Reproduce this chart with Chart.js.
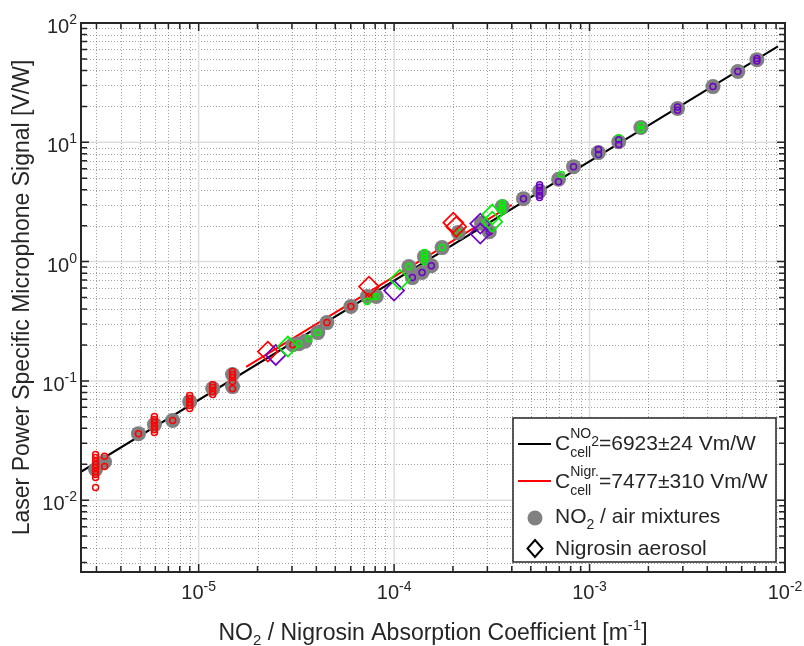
<!DOCTYPE html>
<html>
<head>
<meta charset="utf-8">
<script src="https://cdn.jsdelivr.net/npm/chart.js@4.4.0/dist/chart.umd.min.js"></script>
<style>
  html, body { margin: 0; padding: 0; background: #fff; }
  #chart { display: block; }
</style>
</head>
<body>
<canvas id="chart" width="804" height="646"></canvas>
<script>
// ---- axis ranges / tick labels ----
const xRange = [2.5e-6, 1e-2];
const yRange = [2.5e-3, 100];
const xTickExp = [-5, -4, -3, -2];
const yTickExp = [-2, -1, 0, 1, 2];

// ---- NO2 / air mixtures (grey mean points) ----
const grayX = [2.97e-6, 3.3e-6, 4.92e-6, 5.94e-6, 7.36e-6, 9.0e-6, 1.18e-5, 1.49e-5, 1.49e-5,
  3.03e-5, 3.26e-5, 3.5e-5, 4.07e-5, 4.53e-5, 6.01e-5, 7.3e-5, 8.1e-5, 1.19e-4, 1.24e-4,
  1.39e-4, 1.43e-4, 1.55e-4, 1.76e-4, 2.13e-4, 2.8e-4, 3.07e-4, 3.58e-4, 4.59e-4, 5.55e-4,
  6.94e-4, 8.28e-4, 1.11e-3, 1.41e-3, 1.83e-3, 2.82e-3, 4.28e-3, 5.74e-3, 7.18e-3];
const grayY = [0.0181, 0.021, 0.0361, 0.043, 0.0465, 0.067, 0.0862, 0.113, 0.0896,
  0.201, 0.205, 0.215, 0.254, 0.308, 0.42, 0.51, 0.51, 0.908, 0.734,
  0.809, 1.10, 0.925, 1.31, 1.75, 2.1, 1.78, 2.89, 3.37, 3.9,
  4.9, 6.25, 8.2, 10.1, 13.3, 19.2, 29.3, 39.2, 49.3];

// single measurements (small open circles)
const redX = [2.97e-6, 2.97e-6, 2.97e-6, 2.97e-6, 2.97e-6, 2.97e-6, 2.97e-6, 2.97e-6, 2.97e-6,
  3.3e-6, 3.3e-6, 4.92e-6, 5.94e-6, 5.94e-6, 5.94e-6, 5.94e-6, 5.94e-6, 5.94e-6, 7.36e-6,
  9.0e-6, 9.0e-6, 9.0e-6, 9.0e-6, 9.0e-6, 1.18e-5, 1.18e-5, 1.18e-5, 1.18e-5,
  1.49e-5, 1.49e-5, 1.49e-5, 1.49e-5, 1.49e-5, 3.03e-5, 4.53e-5, 6.01e-5, 7.44e-5];
const redY = [0.0241, 0.0228, 0.0211, 0.0199, 0.0188, 0.0174, 0.0164, 0.0155, 0.0128,
  0.0233, 0.0192, 0.0361, 0.0502, 0.0474, 0.0447, 0.0414, 0.039, 0.0369, 0.0465,
  0.0753, 0.0711, 0.0658, 0.0621, 0.0586, 0.093, 0.0879, 0.0813, 0.0768,
  0.12, 0.113, 0.107, 0.0986, 0.086, 0.201, 0.308, 0.42, 0.51];

const greenX = [3.26e-5, 3.67e-5, 4.07e-5, 7.27e-5, 7.8e-5, 8.1e-5, 1.19e-4,
  1.43e-4, 1.43e-4, 1.43e-4, 1.43e-4, 1.76e-4, 2.13e-4, 3.58e-4, 3.58e-4, 3.58e-4, 3.58e-4,
  7.18e-4, 1.11e-3, 1.41e-3, 1.83e-3, 1.83e-3];
const greenY = [0.205, 0.226, 0.254, 0.462, 0.51, 0.51, 0.908,
  1.19, 1.13, 1.06, 1.0, 1.31, 1.75, 3.1, 2.95, 2.8, 2.65,
  5.36, 7.9, 10.9, 12.8, 13.8];

const purpleX = [1.24e-4, 1.39e-4, 1.55e-4, 3.07e-4, 4.59e-4,
  5.55e-4, 5.55e-4, 5.55e-4, 5.55e-4, 5.55e-4, 6.94e-4, 8.28e-4, 1.11e-3, 1.11e-3,
  1.41e-3, 1.41e-3, 2.82e-3, 2.82e-3, 4.28e-3, 5.74e-3, 7.18e-3, 7.18e-3];
const purpleY = [0.734, 0.809, 0.925, 1.78, 3.37,
  4.4, 4.2, 3.9, 3.6, 3.44, 4.68, 6.25, 8.7, 7.9,
  10.5, 9.6, 19.8, 18.6, 29.3, 39.2, 50.5, 48.0];

// ---- Nigrosin aerosol (diamonds) ----
const redDiaX = [2.26e-5, 7.44e-5, 2.01e-4, 2.08e-4];
const redDiaY = [0.176, 0.617, 2.12, 1.96];
const greenDiaX = [2.86e-5, 1.07e-4, 3.18e-4, 3.18e-4];
const greenDiaY = [0.194, 0.706, 2.48, 2.16];
const purpleDiaX = [2.48e-5, 1.0e-4, 2.76e-4, 2.76e-4];
const purpleDiaY = [0.165, 0.571, 2.08, 1.72];

// ---- calibration fits (end points) ----
const fitNo2X = [2.5e-6, 9.2e-3];
const fitNo2Y = [0.0173, 63.7];
const fitNigrX = [1.75e-5, 4.0e-4];
const fitNigrY = [0.131, 2.99];

const RED = '#ff0000';
const GREEN = '#00f000';
const PURPLE = '#7000cc';
const GRAY = '#808080';
const INK = '#262626';
const FONT = '"Liberation Sans", Arial, Helvetica, sans-serif';

const zip = (xs, ys) => xs.map((v, i) => ({ x: v, y: ys[i] }));

function logTicks(min, max) {
    const out = [];
    for (let e = Math.floor(Math.log10(min)); e <= Math.ceil(Math.log10(max)); e++) {
        for (let k = 1; k <= 9; k++) {
            const v = k * Math.pow(10, e);
            if (v >= min * 0.999 && v <= max * 1.001) out.push({ v: v, major: k === 1 });
        }
    }
    return out;
}

// draws text runs [{t, s, dy}] from x (or centred / right aligned), returns end x
function drawRuns(ctx, x, y, runs, align) {
    let w = 0;
    runs.forEach(r => { ctx.font = r.s + 'px ' + FONT; r.w = ctx.measureText(r.t).width; w += r.w; });
    let cx = align === 'center' ? x - w / 2 : align === 'right' ? x - w : x;
    ctx.textAlign = 'left';
    ctx.textBaseline = 'alphabetic';
    runs.forEach(r => {
        ctx.font = r.s + 'px ' + FONT;
        ctx.fillText(r.t, cx, y + (r.dy || 0));
        cx += r.w;
    });
    return cx;
}

// C with a superscript and a "cell" subscript stacked, then the rest
function drawCoef(ctx, x, y, sup, supSub, rest) {
    ctx.textAlign = 'left';
    ctx.textBaseline = 'alphabetic';
    ctx.font = '21px ' + FONT;
    ctx.fillText('C', x, y);
    const sx = x + ctx.measureText('C').width;
    ctx.font = '14px ' + FONT;
    ctx.fillText(sup, sx, y - 12);
    let supEnd = sx + ctx.measureText(sup).width;
    if (supSub) {
        ctx.fillText(supSub, supEnd, y - 4);
        supEnd += ctx.measureText(supSub).width;
    }
    ctx.fillText('cell', sx, y + 7);
    const subEnd = sx + ctx.measureText('cell').width;
    ctx.font = '21px ' + FONT;
    ctx.fillText(rest, Math.max(supEnd, subEnd), y);
}

const matlabAxes = {
    id: 'matlabAxes',
    beforeDatasetsDraw(chart) {
        const { ctx, chartArea: a, scales: { x, y } } = chart;
        const xt = logTicks(xRange[0], xRange[1]);
        const yt = logTicks(yRange[0], yRange[1]);
        ctx.save();
        ctx.lineWidth = 1;
        // minor grid: dotted
        ctx.setLineDash([1, 2]);
        ctx.strokeStyle = 'rgba(38,38,38,0.42)';
        ctx.beginPath();
        xt.filter(t => !t.major).forEach(t => {
            const px = Math.round(x.getPixelForValue(t.v)) + 0.5;
            ctx.moveTo(px, a.top); ctx.lineTo(px, a.bottom);
        });
        yt.filter(t => !t.major).forEach(t => {
            const py = Math.round(y.getPixelForValue(t.v)) + 0.5;
            ctx.moveTo(a.left, py); ctx.lineTo(a.right, py);
        });
        ctx.stroke();
        // major grid: solid light
        ctx.setLineDash([]);
        ctx.strokeStyle = '#dddddd';
        ctx.lineWidth = 1.5;
        ctx.beginPath();
        xt.filter(t => t.major).forEach(t => {
            const px = x.getPixelForValue(t.v);
            ctx.moveTo(px, a.top); ctx.lineTo(px, a.bottom);
        });
        yt.filter(t => t.major).forEach(t => {
            const py = y.getPixelForValue(t.v);
            ctx.moveTo(a.left, py); ctx.lineTo(a.right, py);
        });
        ctx.stroke();
        ctx.restore();
    },
    afterDatasetsDraw(chart) {
        const { ctx, chartArea: a, scales: { x, y } } = chart;
        const xt = logTicks(xRange[0], xRange[1]);
        const yt = logTicks(yRange[0], yRange[1]);
        ctx.save();
        // inward ticks on all four sides
        ctx.strokeStyle = INK;
        ctx.lineWidth = 1.5;
        ctx.beginPath();
        xt.forEach(t => {
            const px = x.getPixelForValue(t.v);
            const len = t.major ? 8 : 6;
            ctx.moveTo(px, a.bottom); ctx.lineTo(px, a.bottom - len);
            ctx.moveTo(px, a.top); ctx.lineTo(px, a.top + len);
        });
        yt.forEach(t => {
            const py = y.getPixelForValue(t.v);
            const len = t.major ? 8 : 6;
            ctx.moveTo(a.left, py); ctx.lineTo(a.left + len, py);
            ctx.moveTo(a.right, py); ctx.lineTo(a.right - len, py);
        });
        ctx.stroke();
        // box
        ctx.lineWidth = 2;
        ctx.strokeRect(a.left, a.top, a.right - a.left, a.bottom - a.top);

        // tick labels
        ctx.fillStyle = INK;
        xTickExp.forEach(e => {
            const px = x.getPixelForValue(Math.pow(10, e));
            drawRuns(ctx, px, a.bottom + 27, [{ t: '10', s: 20 }, { t: String(e), s: 14, dy: -8 }], 'center');
        });
        yTickExp.forEach(e => {
            const py = y.getPixelForValue(Math.pow(10, e));
            drawRuns(ctx, a.left - 4, py + 10, [{ t: '10', s: 20 }, { t: String(e), s: 14, dy: -9 }], 'right');
        });

        // axis titles
        drawRuns(ctx, (a.left + a.right) / 2, 640, [
            { t: 'NO', s: 23 }, { t: '2', s: 15, dy: 5 },
            { t: ' / Nigrosin Absorption Coefficient [m', s: 23 },
            { t: '-1', s: 15, dy: -10 }, { t: ']', s: 23 }
        ], 'center');
        ctx.save();
        ctx.translate(29, (a.top + a.bottom) / 2);
        ctx.rotate(-Math.PI / 2);
        drawRuns(ctx, 0, 0, [{ t: 'Laser Power Specific Microphone Signal [V/W]', s: 23 }], 'center');
        ctx.restore();

        // legend
        const L = { x: 513, y: 418, w: 263, h: 144 };
        ctx.fillStyle = '#fff';
        ctx.fillRect(L.x, L.y, L.w, L.h);
        ctx.strokeStyle = INK;
        ctx.lineWidth = 1.5;
        ctx.strokeRect(L.x, L.y, L.w, L.h);

        ctx.lineWidth = 2;
        ctx.strokeStyle = '#000';
        ctx.beginPath(); ctx.moveTo(518, 444); ctx.lineTo(551, 444); ctx.stroke();
        ctx.strokeStyle = RED;
        ctx.beginPath(); ctx.moveTo(518, 481); ctx.lineTo(551, 481); ctx.stroke();

        ctx.fillStyle = GRAY;
        ctx.beginPath(); ctx.arc(535, 518, 7.5, 0, Math.PI * 2); ctx.fill();

        ctx.strokeStyle = '#000';
        ctx.lineWidth = 2;
        ctx.beginPath();
        ctx.moveTo(535, 540); ctx.lineTo(542.5, 548.5); ctx.lineTo(535, 557); ctx.lineTo(527.5, 548.5);
        ctx.closePath(); ctx.stroke();

        ctx.fillStyle = INK;
        drawCoef(ctx, 555, 450, 'NO', '2', '=6923\u00b124 Vm/W');
        drawCoef(ctx, 555, 488, 'Nigr.', '', '=7477\u00b1310 Vm/W');
        drawRuns(ctx, 555, 523, [{ t: 'NO', s: 21 }, { t: '2', s: 14, dy: 6 }, { t: ' / air mixtures', s: 21 }], 'left');
        drawRuns(ctx, 555, 555, [{ t: 'Nigrosin aerosol', s: 21 }], 'left');
        ctx.restore();
    }
};

const smallCircle = (data, color, order) => ({
    data: data, order: order, pointStyle: 'circle', pointRadius: 3,
    borderColor: color, backgroundColor: 'transparent', borderWidth: 1.5
});
const diamond = (data, color, order) => ({
    data: data, order: order, pointStyle: 'rectRot', pointRadius: 10,
    borderColor: color, backgroundColor: 'transparent', borderWidth: 1.7
});

new Chart(document.getElementById('chart'), {
    type: 'scatter',
    data: {
        datasets: [
            { data: zip(fitNo2X, fitNo2Y), order: 9, showLine: true, pointRadius: 0, borderColor: '#000', borderWidth: 2 },
            { data: zip(fitNigrX, fitNigrY), order: 8, showLine: true, pointRadius: 0, borderColor: RED, borderWidth: 2 },
            { data: zip(grayX, grayY), order: 7, pointStyle: 'circle', pointRadius: 7.5, borderWidth: 0, backgroundColor: GRAY },
            smallCircle(zip(redX, redY), RED, 6),
            smallCircle(zip(greenX, greenY), GREEN, 5),
            smallCircle(zip(purpleX, purpleY), PURPLE, 4),
            diamond(zip(redDiaX, redDiaY), RED, 3),
            diamond(zip(purpleDiaX, purpleDiaY), PURPLE, 2),
            diamond(zip(greenDiaX, greenDiaY), GREEN, 1)
        ]
    },
    options: {
        responsive: false,
        animation: false,
        devicePixelRatio: 1,
        events: [],
        layout: { padding: { left: 81, right: 19, top: 23, bottom: 74 } },
        plugins: { legend: { display: false }, tooltip: { enabled: false } },
        scales: {
            x: { type: 'logarithmic', min: xRange[0], max: xRange[1], display: false },
            y: { type: 'logarithmic', min: yRange[0], max: yRange[1], display: false }
        }
    },
    plugins: [matlabAxes]
});
</script>
</body>
</html>
